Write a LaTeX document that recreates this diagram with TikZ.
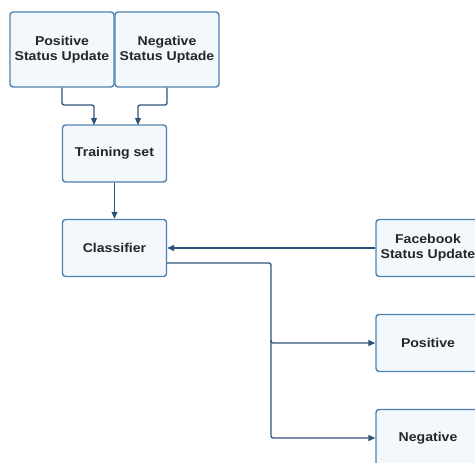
\documentclass[tikz,border=0pt]{standalone}
\usepackage{fontspec}
\setmainfont{Liberation Sans}
\newfontfamily\boxfont{Liberation Sans}[FakeStretch=1.1]
\usetikzlibrary{arrows.meta}
\definecolor{boxfill}{HTML}{F3F8FD}
\definecolor{boxline}{HTML}{4E82AE}
\definecolor{conn}{HTML}{2E5378}
\begin{document}
\begin{tikzpicture}[x=1pt,y=-1pt,
  box/.style={draw=boxline, fill=boxfill, line width=1.4pt, rounded corners=3pt,
    minimum width=104pt, minimum height=57pt, align=center, inner sep=0pt,
    font=\boxfont\fontsize{12.8}{15}\selectfont\bfseries, text=black!85},
  conn/.style={draw=conn, line width=1.3pt, -{Triangle[length=7pt,width=6pt]}}]
\useasboundingbox (0,0) rectangle (475,463);
\clip (0,0) rectangle (475,463);
\node[box, minimum height=75pt] (pos) at (62,49.5) {Positive\\Status Update};
\node[box, minimum height=75pt] (neg) at (167,49.5) {Negative\\Status Uptade};
\node[box] (train) at (114.5,153.5) {Training set};
\node[box] (cls) at (114.5,248) {Classifier};
\node[box] (fb) at (428,248) {Facebook\\Status Update};
\node[box] (p) at (428,343) {Positive};
\node[box] (n) at (428,438) {Negative};
\coordinate (ta) at (94,125);
\coordinate (tb) at (138,125);
\draw[conn, rounded corners=2pt] (pos.south) -- (62,105) -- (94,105) -- (ta);
\draw[conn, rounded corners=2pt] (neg.south) -- (167,105) -- (138,105) -- (tb);
\draw[conn] (train.south) -- (cls.north);
\draw[conn] (fb.west) -- (cls.east);
\coordinate (c1) at (167,263);
\draw[conn, rounded corners=2pt] (c1) -- (271,263) -- (271,343) -- (p.west);
\draw[conn, rounded corners=2pt] (271,340) -- (271,438) -- (n.west);
\end{tikzpicture}
\end{document}
